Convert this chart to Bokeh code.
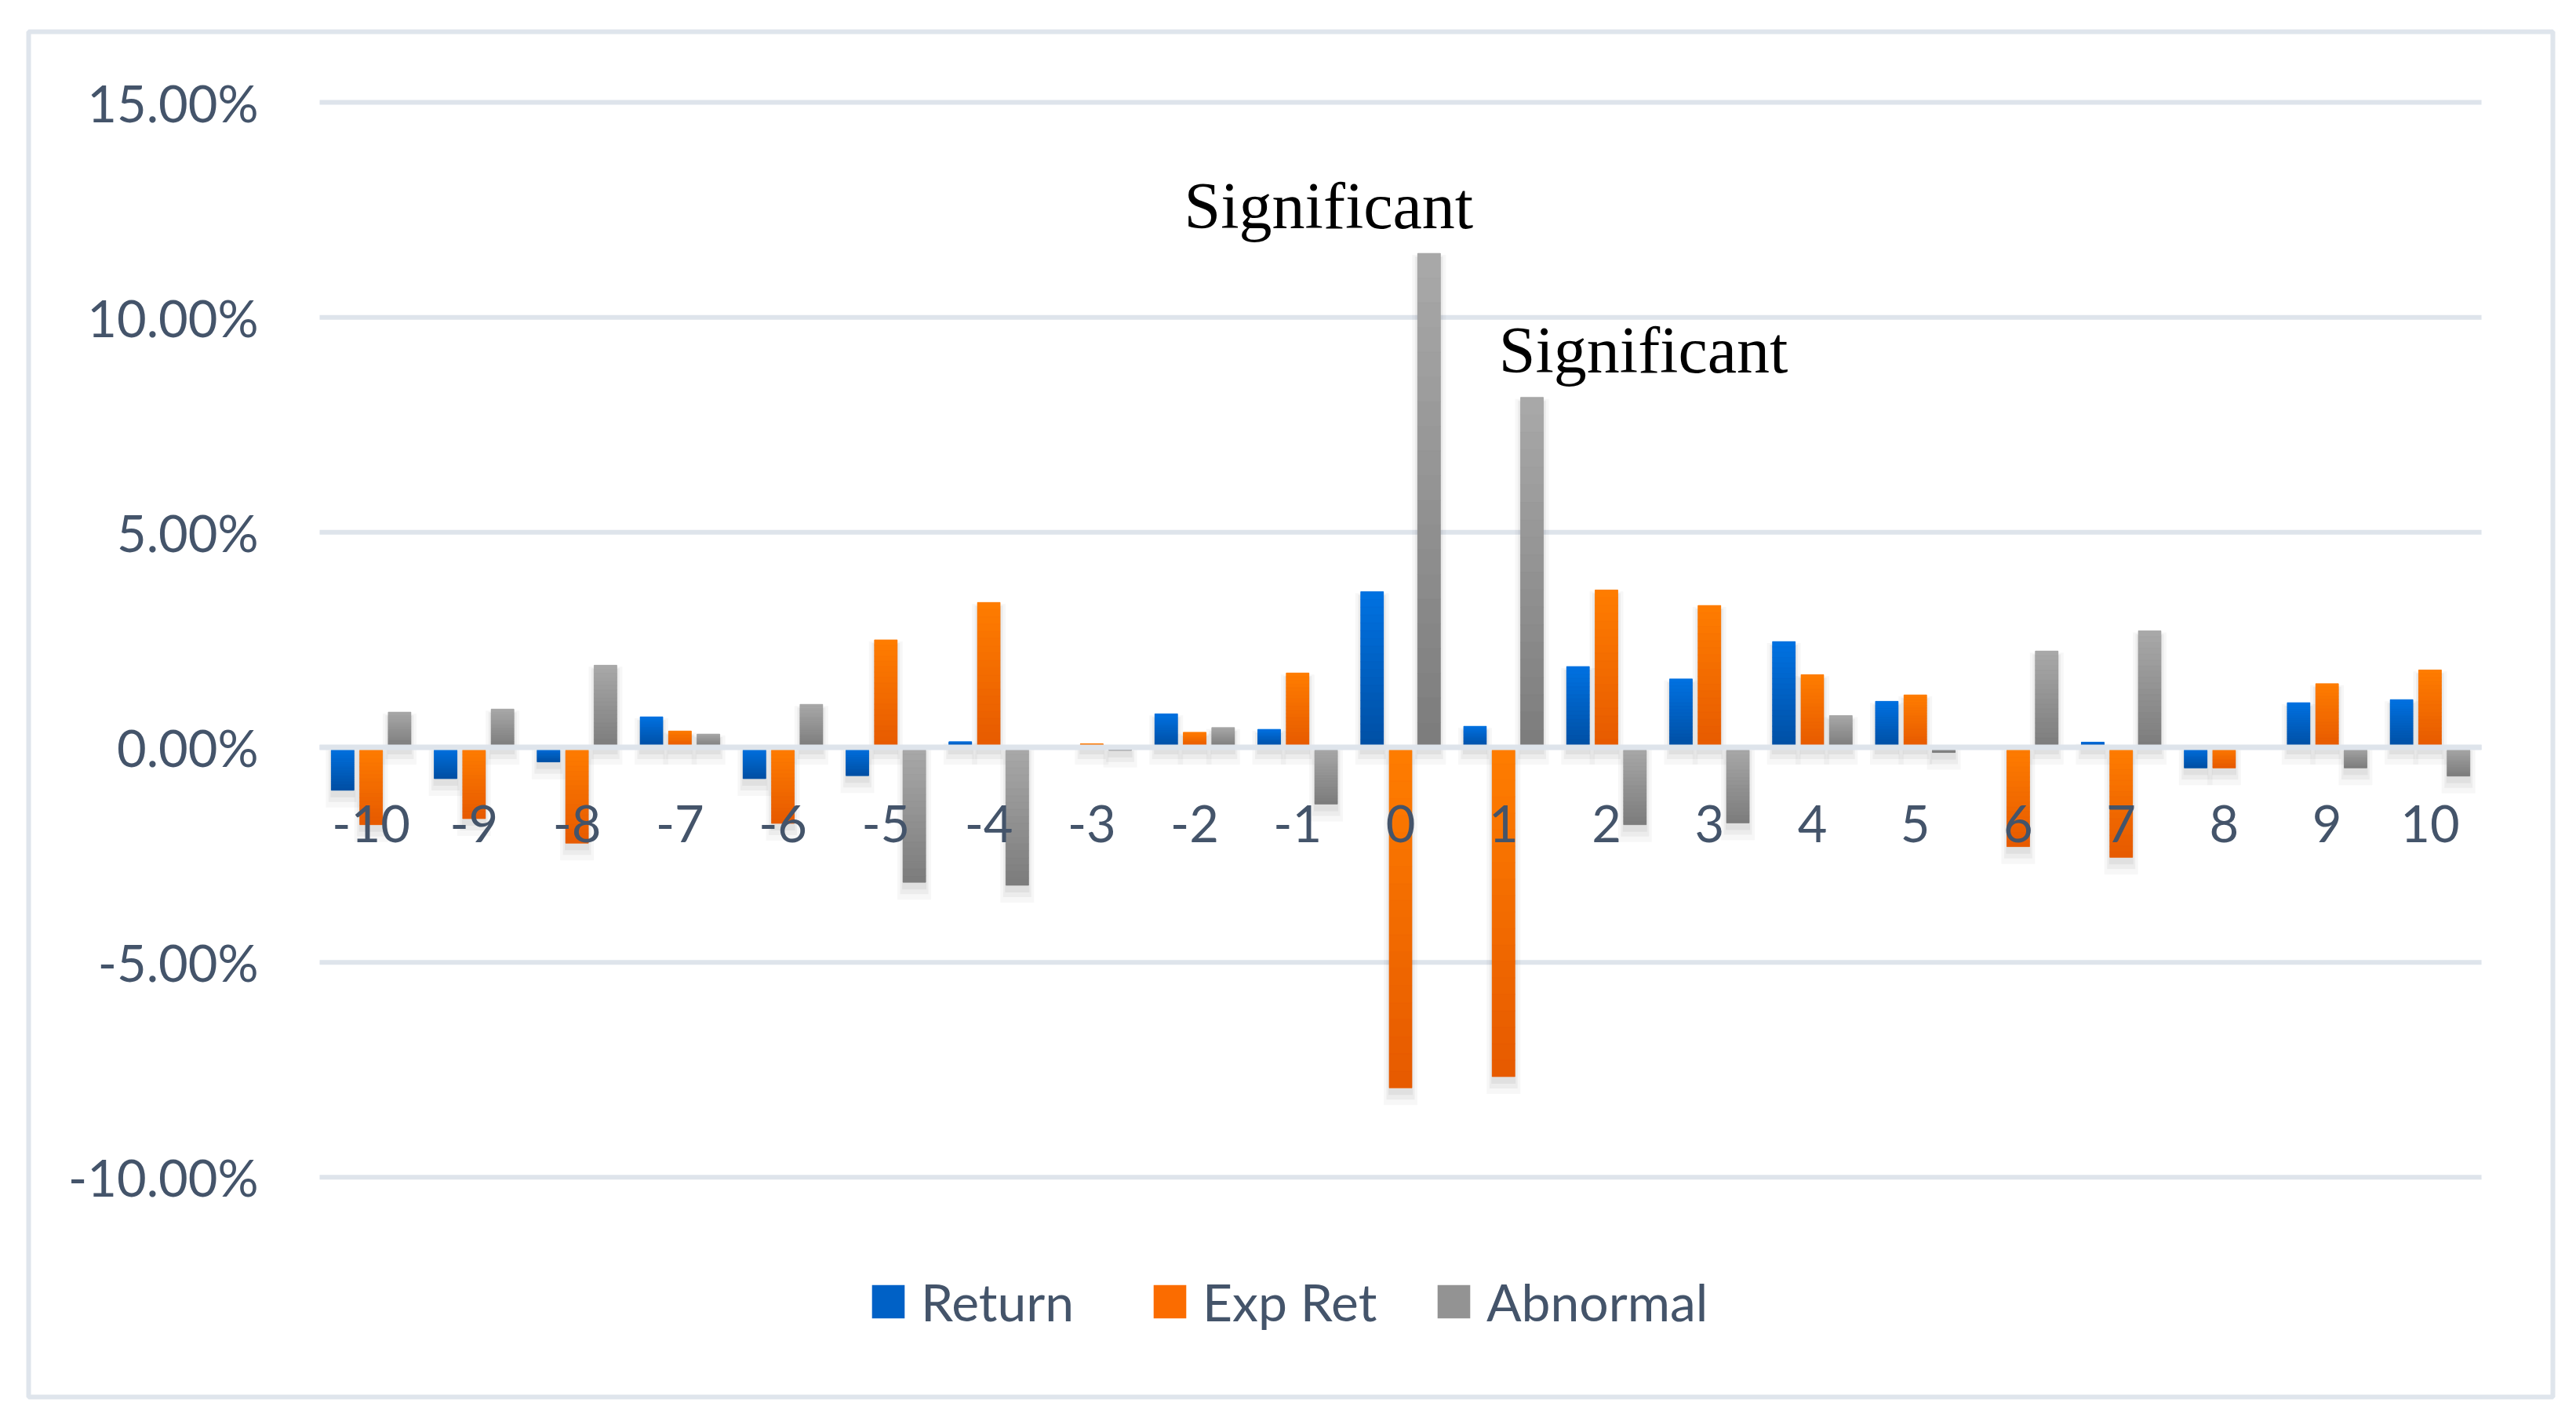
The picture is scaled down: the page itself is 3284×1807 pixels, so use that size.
import numpy as np
from bokeh.plotting import figure
from bokeh.models import (Range1d, FixedTicker, NumeralTickFormatter, Legend, LegendItem,
                          ColumnDataSource, LabelSet)
from bokeh.embed import file_html
from bokeh.resources import INLINE

# ---------------- data ----------------
days = list(range(-10, 11))
x_tick_labels = ["-10", "-9", "-8", "-7", "-6", "-5", "-4", "-3", "-2", "-1", "0",
                 "1", "2", "3", "4", "5", "6", "7", "8", "9", "10"]
returns_pct = [-1.00, -0.73, -0.34, 0.71, -0.73, -0.66, 0.13, 0.00, 0.78, 0.42, 3.62,
               0.49, 1.88, 1.59, 2.46, 1.07, 0.00, 0.12, -0.48, 1.04, 1.11]
exp_ret_pct = [-1.80, -1.66, -2.23, 0.38, -1.77, 2.50, 3.37, 0.08, 0.35, 1.73, -7.92,
               -7.66, 3.66, 3.30, 1.69, 1.22, -2.31, -2.56, -0.48, 1.48, 1.80]
abnormal_pct = [0.82, 0.89, 1.91, 0.31, 1.00, -3.14, -3.21, -0.07, 0.46, -1.32, 11.49,
                8.14, -1.80, -1.76, 0.74, -0.12, 2.24, 2.71, 0.00, -0.48, -0.67]
series_names = ["Return", "Exp Ret", "Abnormal"]
sig_days = [0, 1]
sig_text = ["Significant", "Significant"]
y_ticks = [-0.10, -0.05, 0.0, 0.05, 0.10, 0.15]

# ---------------- style ----------------
TEXT = "#44546A"
GRID = "#DEE4EB"
BORDER = "#DFE5EC"
FONT = "Lato"
W, H = 3268, 1790
PX_PER_X = 131.24           # pixels per category
PX_PER_Y = 5483.0           # pixels per unit of return (1.0 = 100%)
PX_X = 1.0 / PX_PER_X
PX_Y = 1.0 / PX_PER_Y
BAR_W = 29 * PX_X
OFFS = [-36.3 * PX_X, 0.0, 36.3 * PX_X]
COLORS = [("#0072E2", "#004FA3", "#0061C6"),
          ("#FF7D00", "#E65A00", "#FB6C00"),
          ("#A9A9A9", "#7C7C7C", "#939393")]

# frame = outer chart border box; plot area inside it
FL, FR, FT, FB = 36, 3254, 40, 1781          # frame edges on the canvas
PA_L, ZERO_Y = 407, 952.5                    # plot-area left edge, zero line position
x_lo = days[0] - 0.5
x_hi = days[-1] + 0.5
x_start = x_lo - (PA_L - FL) / PX_PER_X
x_end = x_start + (FR - FL) / PX_PER_X
y_end = (ZERO_Y - FT) / PX_PER_Y
y_start = -(FB - ZERO_Y) / PX_PER_Y

p = figure(width=W, height=H, output_backend="svg", toolbar_location=None,
           x_range=Range1d(x_start, x_end), y_range=Range1d(y_start, y_end),
           min_border_left=FL, min_border_right=W - FR, min_border_top=FT,
           min_border_bottom=H - FB)
p.outline_line_color = BORDER
p.outline_line_width = 6
p.background_fill_color = "white"
p.border_fill_color = "white"
p.xgrid.visible = False
p.ygrid.visible = False

# y axis, pinned to the plot-area left edge
p.yaxis.fixed_location = x_lo
p.yaxis.ticker = FixedTicker(ticks=y_ticks)
p.yaxis.formatter = NumeralTickFormatter(format="0.00%")
p.yaxis.axis_line_color = None
p.yaxis.major_tick_line_color = None
p.yaxis.minor_tick_line_color = None
p.yaxis.major_label_standoff = 72
p.yaxis.major_label_text_font = FONT
p.yaxis.major_label_text_font_size = "65px"
p.yaxis.major_label_text_color = TEXT

# x axis at zero
p.xaxis.fixed_location = 0
p.xaxis.ticker = FixedTicker(ticks=days)
p.xaxis.major_label_overrides = {d: s for d, s in zip(days, x_tick_labels)}
p.xaxis.axis_line_color = None
p.xaxis.major_tick_line_color = None
p.xaxis.minor_tick_line_color = None
p.xaxis.major_label_standoff = 68
p.xaxis.major_label_text_font = FONT
p.xaxis.major_label_text_font_size = "65px"
p.xaxis.major_label_text_color = TEXT

# horizontal gridlines spanning the plot area only
p.segment(x0=[x_lo] * len(y_ticks), x1=[x_hi] * len(y_ticks), y0=y_ticks, y1=y_ticks,
          line_color=GRID, line_width=6)


def lerp_hex(c1, c2, t):
    a = [int(c1[i:i + 2], 16) for i in (1, 3, 5)]
    b = [int(c2[i:i + 2], 16) for i in (1, 3, 5)]
    return "#%02x%02x%02x" % tuple(int(round(a[k] + (b[k] - a[k]) * t)) for k in range(3))


all_series = [returns_pct, exp_ret_pct, abnormal_pct]
base_renderers = []
K = 20
for si, vals in enumerate(all_series):
    v = np.array(vals) / 100.0
    x = np.array(days, dtype=float) + OFFS[si]
    hi = np.maximum(v, 0)
    lo = np.minimum(v, 0)
    nz = v != 0
    # soft shadow
    for (dw, dt, db, a) in [(14, 2, 22, 0.03), (7, 4, 15, 0.045), (2, 5, 9, 0.05)]:
        p.vbar(x=x[nz], width=BAR_W + dw * PX_X, top=hi[nz] - dt * PX_Y,
               bottom=lo[nz] - db * PX_Y, fill_color="black", fill_alpha=a,
               line_color=None)
    light, dark, mid = COLORS[si]
    r = p.vbar(x=x, width=BAR_W, top=hi, bottom=lo, fill_color=mid, line_color=None)
    base_renderers.append(r)
    # vertical gradient slices
    xs, tops, bots, cols = [], [], [], []
    for xi, h, l, n in zip(x, hi, lo, nz):
        if not n:
            continue
        for k in range(K):
            xs.append(xi)
            tops.append(h - (h - l) * k / K)
            bots.append(h - (h - l) * (k + 1) / K)
            cols.append(lerp_hex(light, dark, (k + 0.5) / K))
    src = ColumnDataSource(dict(x=xs, top=tops, bottom=bots, c=cols))
    p.vbar(x="x", width=BAR_W, top="top", bottom="bottom", fill_color="c",
           line_color="c", line_width=0.6, source=src)

# zero line drawn over the bars
p.segment(x0=[x_lo], x1=[x_hi], y0=[0.0], y1=[0.0], line_color=GRID, line_width=7)

# annotations "Significant"
ab = dict(zip(days, abnormal_pct))
sig_src = ColumnDataSource(dict(
    x=[d + OFFS[2] for d in sig_days],
    y=[ab[d] / 100.0 for d in sig_days],
    t=sig_text,
    xo=[-128, 142],
))
p.add_layout(LabelSet(x="x", y="y", text="t", source=sig_src, x_offset="xo", y_offset=32,
                      text_align="center", text_baseline="alphabetic",
                      text_font="Liberation Serif", text_font_size="84px",
                      text_color="black"))

# legends, one per item
leg_x = [1070, 1429, 1791]
for name, r, lx in zip(series_names, base_renderers, leg_x):
    leg = Legend(items=[LegendItem(label=name, renderers=[r])], location=(lx, 82),
                 orientation="horizontal", glyph_width=52, glyph_height=53,
                 label_standoff=16, padding=0, margin=0, border_line_color=None,
                 background_fill_alpha=0, label_text_font=FONT,
                 label_text_font_size="66px", label_text_color=TEXT)
    p.add_layout(leg)

open("out.html", "w").write(file_html(p, INLINE))
